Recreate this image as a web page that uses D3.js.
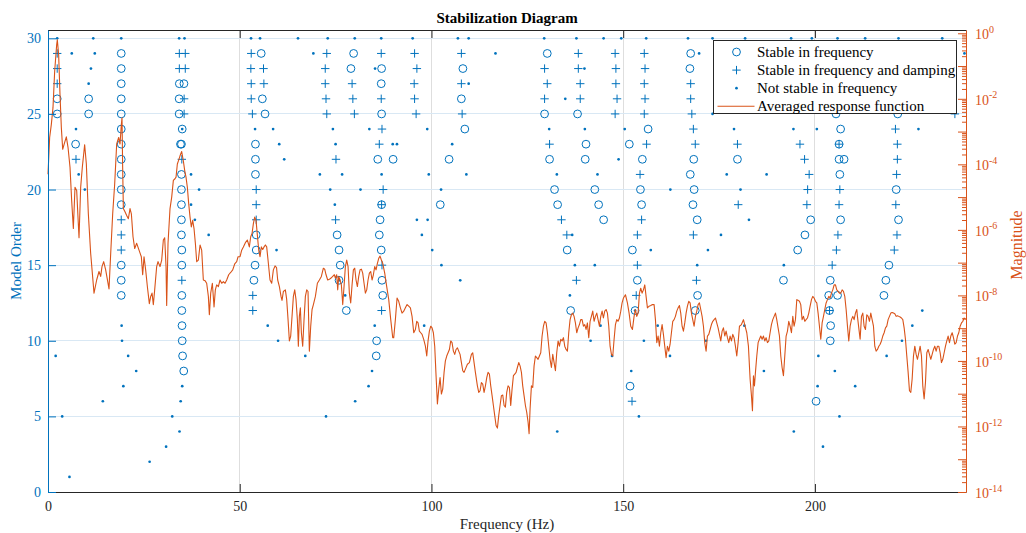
<!DOCTYPE html>
<html>
<head>
<meta charset="utf-8">
<script src="https://cdn.jsdelivr.net/npm/d3@7"></script>
<style>
  body { margin: 0; background: #fff; }
  svg { display: block; }
  text { font-family: "Liberation Serif", "Times New Roman", serif; }
</style>
</head>
<body>
<svg id="chart" width="1026" height="533"></svg>
<script>
// ---- Poles of the identified models: [frequency (Hz), model order] ----
const stableFreq = [
  [2.4,26],[2.4,25],[10.6,26],[10.6,25],[7.2,23],
  [19.1,29],[19.1,28],[19.1,27],[19.1,26],[19.1,25],[19.1,24],[19.1,23],[19.1,22],[19.1,21],[19.1,20],[19.1,19],[19.1,15],[19.1,14],[19.1,13],
  [34.25,27],[35.45,27],[34.2,26],[34.2,25],[35.0,24],[34.55,23],[34.8,23],[34.8,21],[34.8,20],[34.8,19],[34.8,18],[34.8,17],[34.9,16],[34.9,15],[34.9,13],[34.9,12],[34.95,11],[35.0,10],[35.1,9],[35.4,8],
  [55.6,29],[55.9,26],[56.6,25],[54.1,23],[54.1,22],[54.1,21],[54.3,17],[54.3,16],[54.0,15],[53.7,14],
  [79.7,29],[79.0,28],[87.0,28],[86.9,27],[87.0,25],[86.0,22],[90.0,22],[87.0,19],[86.6,18],[75.4,17],[86.4,17],[75.9,16],[86.9,16],[76.2,15],[75.9,14],[87.1,14],[87.3,13],[77.8,12],[85.7,10],[85.6,9],
  [108.2,28],[107.8,26],[108.7,24],[104.6,22],[102.3,19],
  [130.2,29],[129.5,25],[138.1,25],[140.3,23],[130.8,22],[140.1,22],[132.1,20],[142.6,20],[132.9,19],[143.6,19],[144.9,18],[135.4,16],[136.3,12],
  [167.6,29],[167.4,28],[156.5,24],[151.6,23],[155.0,22],[168.4,22],[179.8,22],[167.5,21],[154.5,20],[168.5,20],[154.8,19],[168.2,19],[169.3,18],[152.4,16],[153.7,14],[169.4,13],[153.1,12],[168.8,12],[151.8,7],
  [205.5,25],[206.7,24],[206.3,23],[206.3,22],[207.6,22],[206.5,21],[198.9,18],[206.7,18],[197.4,17],[195.5,16],[191.8,14],[204.0,14],[203.6,13],[205.9,13],[203.8,12],[204.1,11],[204.0,10],[200.3,6],
  [221.6,25],[221.2,20],[221.8,18],[219.3,15],[218.5,14],[218.0,13]
];

const stableFreqDamp = [
  [2.4,29],[2.4,28],[2.4,27],[7.3,22],
  [19.1,18],[19.1,17],[19.1,16],
  [34.25,29],[35.8,29],[34.25,28],[35.8,28],[35.5,26],[35.5,25],[34.9,22],[34.9,14],
  [53.0,29],[52.9,28],[56.2,28],[53.0,27],[56.3,27],[53.0,26],[53.3,25],[54.3,20],[54.3,19],[54.3,18],[53.4,13],[53.4,12],
  [72.7,29],[86.9,29],[72.3,28],[72.3,27],[79.3,27],[72.5,26],[79.5,26],[86.9,26],[72.7,25],[79.9,25],[87.1,24],[86.4,23],[75.1,22],[87.4,20],[87.0,19],[75.0,18],[87.1,15],[87.0,12],
  [95.6,29],[107.8,29],[96.2,28],[95.5,27],[107.8,27],[95.6,26],[96.0,25],[108.0,25],
  [138.3,29],[147.9,29],[129.5,28],[138.3,28],[148.1,28],[130.2,27],[138.8,27],[148.1,27],[129.5,26],[138.8,26],[148.4,26],[147.9,25],[130.8,23],[133.9,18],[135.3,17],[137.8,14],
  [155.5,29],[155.7,28],[155.5,27],[167.6,27],[155.7,26],[167.6,26],[155.5,25],[167.9,25],[168.3,24],[156.1,23],[168.8,23],[179.8,23],[154.4,21],[180.0,19],[154.8,18],[153.7,17],[168.3,17],[153.7,15],[169.1,14],[153.4,13],[152.3,6],
  [196.1,23],[206.3,23],[197.3,22],[198.5,21],[198.1,20],[206.5,20],[197.9,19],[206.3,19],[206.0,17],[205.6,16],[204.5,15],[203.8,12],
  [235.9,28],[235.4,27],[235.9,26],[236.5,25],[221.0,24],[221.5,23],[221.5,22],[221.3,21],[221.1,19],[221.4,17],[220.7,16]
];

const notStable = [
  [2.4,30],[6.2,29],[11.8,30],[12.2,29],[11.2,28],[10.6,27],[7.3,24],[8.0,21],[9.6,20],[2.0,9],[3.7,5],[5.6,1],[14.3,6],[26.5,2],
  [19.1,30],[19.2,11],[19.3,10],[20.9,9],[23.0,8],[19.65,7],
  [34.2,30],[35.6,30],[35.0,24],[37.3,21],[39.4,20],[37.3,19],[38.3,18],[41.9,17],[35.0,7],[34.6,6],[32.4,5],[34.3,4],[30.8,3],
  [52.95,30],[55.3,30],[54.0,24],[58.7,24],[59.6,16],[57.3,11],[60.0,10],
  [65.2,30],[72.95,30],[80.0,30],[86.9,30],[69.2,29],[85.3,28],[74.3,24],[83.8,24],[60.3,23],[75.0,23],[61.6,22],[70.9,21],[76.7,21],[87.0,21],[73.6,20],[81.5,20],[74.8,19],[75.9,14],[77.5,13],[85.2,11],[67.1,9],[84.5,8],[83.6,7],[80.1,6],[72.5,5],
  [89.9,23],[91.0,23],[95.1,30],[106.9,30],[109.7,30],[116.7,29],[109.7,27],[98.9,24],[105.4,23],[99.3,21],[109.1,21],[102.5,20],[96.2,18],[99.0,18],[97.5,17],[100.2,16],[102.6,15],[107.5,14],[98.1,11],
  [129.4,30],[137.8,30],[144.9,30],[149.5,30],[139.9,28],[134.9,26],[130.7,24],[140.0,24],[150.4,24],[148.8,22],[132.7,21],[143.3,21],[136.7,17],[137.4,15],[142.6,15],[136.1,13],[144.1,11],[141.5,10],[147.1,9],[132.8,4],
  [156.0,30],[166.9,30],[173.3,30],[169.8,29],[173.3,25],[178.9,24],[177.0,21],[162.3,20],[180.6,20],[175.5,17],[157.2,16],[172.1,16],[169.3,15],[153.1,12],[159.0,11],[155.4,10],[171.6,10],[162.2,9],[152.1,8],[154.1,5],
  [181.8,30],[193.8,30],[199.2,30],[205.9,30],[194.4,24],[200.5,24],[187.4,21],[182.8,18],[191.9,15],[181.6,11],[200.9,9],[186.7,8],[205.2,8],[200.7,7],[210.5,7],[206.4,5],[194.5,4],[202.1,3],
  [213.1,30],[221.8,30],[233.2,30],[239.0,29],[227.0,24],[228.0,12],[225.4,11],[222.7,10],[218.7,9]
];

// ---- Averaged response function: [frequency (Hz), log10(magnitude)] ----
const response = [
  [0.0,-4.3],[0.43,-3.18],[0.87,-2.78],[1.30,-2.27],[1.74,-1.16],[2.26,-0.35],[2.43,-0.20],[2.78,-0.66],[3.13,-1.87],[3.48,-2.88],
  [3.83,-3.54],[4.35,-3.33],[4.78,-3.16],[5.22,-3.48],[5.74,-4.09],[6.17,-5.10],[6.61,-5.96],[7.04,-4.70],[7.48,-4.80],[8.09,-6.24],
  [8.52,-4.70],[8.95,-4.09],[9.56,-3.40],[10.0,-3.99],[10.52,-5.51],[11.13,-6.72],[12.0,-7.93],[12.69,-7.53],[13.30,-7.27],[13.74,-7.42],
  [14.08,-7.12],[14.52,-6.97],[15.04,-7.22],[15.91,-7.80],[16.35,-6.72],[16.87,-5.51],[17.39,-4.60],[17.91,-3.38],[18.43,-3.18],[18.78,-3.38],
  [19.13,-2.78],[19.30,-2.58],[19.47,-4.09],[19.65,-5.35],[20.08,-5.45],[20.52,-5.56],[20.95,-5.66],[21.39,-5.35],[21.74,-5.51],[22.17,-6.21],
  [22.61,-6.57],[23.13,-6.41],[23.74,-6.62],[24.34,-6.82],[24.69,-7.37],[25.04,-6.82],[25.47,-7.22],[25.91,-7.73],[26.43,-8.25],[26.78,-8.03],
  [27.13,-7.93],[27.47,-8.28],[27.82,-7.83],[28.34,-7.12],[28.69,-6.97],[29.21,-7.12],[29.65,-6.92],[30.08,-6.31],[30.43,-6.24],[30.78,-7.12],
  [30.95,-8.31],[31.30,-6.41],[31.82,-5.35],[32.26,-5.00],[32.69,-4.49],[33.12,-4.44],[33.39,-4.39],[33.73,-3.99],[34.08,-3.87],[34.43,-3.74],
  [34.86,-3.61],[35.29,-3.89],[35.65,-4.19],[35.99,-4.39],[36.34,-4.70],[36.69,-5.20],[37.04,-5.61],[37.38,-5.91],[37.73,-5.71],[38.08,-5.96],
  [38.43,-6.41],[38.78,-6.97],[39.21,-6.92],[39.65,-6.46],[40.08,-6.62],[40.51,-7.53],[40.95,-7.55],[41.38,-7.63],[41.82,-8.03],[42.08,-8.59],
  [42.43,-7.93],[42.86,-7.63],[43.30,-8.35],[43.64,-7.83],[43.99,-7.68],[44.43,-7.73],[44.86,-7.53],[45.30,-7.63],[45.73,-7.58],[46.17,-7.63],
  [46.60,-7.53],[47.12,-7.37],[47.64,-7.30],[48.17,-7.22],[48.69,-7.04],[49.21,-6.97],[49.56,-6.82],[50.08,-6.82],[50.51,-6.62],[50.95,-6.52],
  [51.47,-6.39],[51.99,-6.31],[52.51,-6.52],[52.86,-6.21],[53.21,-6.11],[53.56,-5.81],[53.90,-5.61],[54.25,-5.71],[54.60,-6.16],[54.95,-6.62],
  [55.29,-6.82],[55.64,-6.52],[55.99,-6.60],[56.34,-6.52],[56.69,-6.46],[57.03,-6.52],[57.38,-6.92],[57.90,-7.53],[58.34,-7.63],[58.77,-7.22],
  [59.21,-7.10],[59.60,-7.15],[59.90,-7.53],[60.34,-7.73],[60.77,-8.03],[61.03,-8.15],[61.38,-7.88],[61.90,-7.83],[62.25,-8.13],[62.60,-8.74],
  [62.95,-9.39],[63.29,-9.24],[63.64,-8.64],[63.99,-8.03],[64.34,-7.83],[64.68,-8.13],[65.03,-8.74],[65.29,-9.55],[65.55,-8.64],[65.81,-8.38],
  [66.08,-9.14],[66.42,-9.55],[66.77,-8.74],[67.12,-8.03],[67.47,-7.83],[67.81,-7.88],[68.16,-9.70],[68.51,-8.94],[68.86,-8.43],[69.21,-8.28],
  [69.73,-8.03],[70.25,-7.63],[70.77,-7.53],[71.29,-7.42],[71.81,-7.17],[72.16,-7.20],[72.51,-7.37],[72.94,-7.53],[73.38,-7.51],[73.81,-7.47],
  [74.25,-7.42],[74.68,-7.37],[74.94,-7.47],[75.29,-7.37],[75.55,-7.83],[75.81,-7.42],[76.16,-7.53],[76.51,-7.68],[76.86,-8.28],[77.20,-7.73],
  [77.55,-7.12],[77.90,-6.92],[78.25,-7.12],[78.59,-7.93],[78.94,-8.23],[79.29,-7.68],[79.64,-7.22],[79.99,-7.17],[80.33,-7.53],[80.68,-7.73],
  [81.03,-7.42],[81.38,-7.22],[81.73,-7.20],[82.07,-7.32],[82.42,-7.63],[82.77,-7.93],[83.12,-7.83],[83.46,-7.53],[83.81,-7.32],[84.16,-7.27],
  [84.51,-7.53],[84.85,-7.37],[85.20,-7.12],[85.55,-7.22],[85.90,-7.02],[86.25,-6.87],[86.59,-6.80],[86.94,-6.92],[87.29,-7.02],[87.81,-7.32],
  [88.33,-7.73],[88.86,-8.13],[89.38,-8.74],[89.90,-9.29],[90.16,-9.29],[90.59,-8.74],[91.03,-8.08],[91.46,-8.18],[91.90,-8.38],[92.33,-8.54],
  [92.77,-8.48],[93.20,-8.38],[93.64,-8.28],[94.07,-8.33],[94.51,-8.38],[94.94,-8.64],[95.38,-9.14],[95.81,-9.04],[96.16,-8.79],[96.51,-8.84],
  [96.85,-9.09],[97.20,-9.14],[97.55,-9.19],[97.98,-9.34],[98.42,-9.55],[98.77,-9.85],[99.11,-9.39],[99.46,-9.09],[99.81,-8.94],[100.16,-8.99],
  [100.50,-9.14],[100.85,-9.55],[101.20,-10.45],[101.55,-11.31],[101.90,-10.86],[102.24,-10.51],[102.59,-11.01],[102.94,-10.86],[103.29,-10.35],[103.63,-10.00],
  [103.98,-9.85],[104.33,-9.75],[104.68,-9.65],[105.03,-9.39],[105.37,-9.44],[105.72,-9.70],[106.07,-9.80],[106.42,-9.65],[106.76,-9.60],[107.11,-9.70],
  [107.46,-9.80],[107.81,-10.05],[108.16,-10.30],[108.50,-10.35],[108.85,-10.25],[109.37,-10.10],[109.89,-10.05],[110.42,-9.80],[110.76,-9.75],[111.11,-10.05],
  [111.46,-10.35],[111.98,-10.76],[112.33,-10.96],[112.68,-10.91],[113.02,-10.66],[113.37,-10.71],[113.72,-10.96],[114.07,-10.76],[114.42,-10.51],[114.76,-10.35],
  [115.11,-10.40],[115.46,-10.76],[115.81,-11.06],[116.15,-11.36],[116.50,-11.67],[116.85,-11.97],[117.20,-12.05],[117.54,-11.67],[117.89,-11.36],[118.24,-11.06],
  [118.59,-11.04],[118.94,-11.36],[119.28,-11.41],[119.63,-10.96],[119.98,-10.76],[120.33,-10.81],[120.67,-11.36],[121.02,-10.86],[121.37,-10.45],[121.72,-10.40],
  [122.07,-10.35],[122.41,-10.20],[122.76,-10.05],[123.11,-10.15],[123.46,-10.35],[123.80,-10.76],[124.15,-11.06],[124.50,-11.36],[124.85,-11.57],[125.20,-11.87],
  [125.46,-12.22],[125.72,-11.46],[126.07,-10.76],[126.41,-10.81],[126.76,-10.15],[127.11,-9.85],[127.46,-9.90],[127.80,-9.95],[128.15,-9.85],[128.50,-9.75],
  [128.85,-9.24],[129.20,-8.94],[129.54,-8.79],[129.89,-8.84],[130.24,-9.14],[130.59,-9.55],[130.93,-9.95],[131.28,-10.20],[131.63,-9.80],[131.98,-10.05],
  [132.33,-10.30],[132.67,-9.75],[133.02,-9.39],[133.37,-9.55],[133.72,-9.34],[134.06,-9.39],[134.41,-9.29],[134.76,-9.55],[135.11,-9.65],[135.46,-9.70],
  [135.80,-9.14],[136.15,-8.74],[136.50,-8.59],[136.85,-8.54],[137.19,-8.64],[137.54,-8.84],[137.89,-9.14],[138.24,-8.99],[138.59,-8.89],[138.93,-8.74],
  [139.28,-8.74],[139.63,-8.94],[139.98,-8.89],[140.32,-9.04],[140.67,-8.84],[141.02,-9.29],[141.37,-8.79],[141.71,-8.64],[142.06,-8.48],[142.41,-8.79],
  [142.76,-8.64],[143.11,-8.54],[143.45,-8.74],[143.80,-8.94],[144.15,-8.64],[144.50,-8.48],[144.84,-8.69],[145.19,-8.48],[145.54,-8.43],[145.89,-8.54],
  [146.24,-8.94],[146.58,-9.55],[146.93,-9.80],[147.28,-9.85],[147.63,-9.34],[147.98,-8.89],[148.32,-8.74],[148.67,-8.79],[149.02,-8.69],[149.37,-8.48],
  [149.71,-8.23],[150.06,-8.08],[150.59,-7.98],[151.10,-8.23],[151.54,-8.54],[151.97,-8.94],[152.41,-9.04],[152.84,-8.64],[153.19,-8.43],[153.54,-8.64],
  [153.89,-8.54],[154.24,-7.93],[154.58,-7.78],[154.93,-7.93],[155.28,-7.83],[155.63,-7.68],[155.97,-8.03],[156.32,-8.38],[156.76,-8.33],[157.19,-8.31],
  [157.63,-8.28],[158.06,-8.28],[158.41,-8.74],[158.76,-9.44],[159.10,-9.24],[159.45,-9.55],[159.80,-9.14],[160.15,-8.89],[160.49,-9.19],[160.84,-9.55],
  [161.19,-9.90],[161.54,-9.55],[161.89,-9.70],[162.23,-9.49],[162.58,-9.14],[162.93,-8.79],[163.28,-8.74],[163.62,-8.64],[163.97,-8.48],[164.32,-8.38],
  [164.67,-8.31],[165.01,-8.54],[165.36,-8.94],[165.71,-9.09],[166.06,-8.84],[166.41,-8.54],[166.75,-8.33],[167.10,-8.18],[167.45,-8.23],[167.80,-8.54],
  [168.14,-8.74],[168.49,-8.94],[168.84,-8.64],[169.19,-8.48],[169.54,-8.28],[169.88,-8.23],[170.23,-8.43],[170.58,-8.64],[170.93,-8.94],[171.27,-9.44],
  [171.62,-9.70],[171.97,-9.24],[172.32,-9.19],[172.67,-9.04],[173.01,-8.89],[173.36,-8.79],[173.71,-8.74],[174.06,-8.69],[174.40,-8.84],[174.75,-8.99],
  [175.10,-9.19],[175.45,-9.39],[175.80,-9.09],[176.14,-8.99],[176.49,-9.24],[176.84,-9.09],[177.19,-9.29],[177.53,-9.44],[177.88,-9.24],[178.23,-9.39],
  [178.58,-9.19],[178.92,-9.29],[179.27,-9.55],[179.62,-9.85],[179.97,-9.44],[180.32,-8.94],[180.84,-8.89],[181.36,-8.74],[181.79,-8.94],[182.23,-9.14],
  [182.66,-9.55],[183.10,-10.56],[183.45,-11.06],[183.71,-11.52],[183.97,-10.45],[184.23,-10.76],[184.49,-10.35],[184.84,-9.85],[185.19,-9.44],[185.53,-9.34],
  [185.88,-9.24],[186.23,-9.34],[186.58,-9.24],[186.92,-9.39],[187.27,-9.29],[187.62,-9.44],[187.97,-9.39],[188.31,-9.14],[188.66,-8.89],[189.01,-8.74],
  [189.36,-8.64],[189.71,-8.54],[190.05,-8.74],[190.40,-8.99],[190.75,-9.24],[191.10,-9.85],[191.44,-10.20],[191.79,-10.45],[192.14,-9.85],[192.49,-9.24],
  [192.84,-9.09],[193.18,-8.79],[193.53,-8.94],[193.88,-9.14],[194.23,-8.64],[194.57,-8.94],[194.92,-8.74],[195.27,-8.13],[195.62,-8.15],[195.97,-8.18],
  [196.31,-8.28],[196.66,-8.74],[197.01,-8.64],[197.36,-8.79],[197.70,-8.74],[198.05,-8.69],[198.40,-8.54],[198.75,-8.33],[199.10,-8.13],[199.44,-8.03],
  [199.79,-8.08],[200.14,-8.18],[200.49,-8.23],[200.83,-8.54],[201.18,-8.94],[201.53,-9.34],[201.88,-8.84],[202.23,-8.64],[202.57,-8.43],[202.92,-8.23],
  [203.27,-8.13],[203.62,-8.03],[203.96,-8.08],[204.31,-7.93],[204.66,-7.83],[205.01,-7.68],[205.36,-7.68],[205.70,-7.83],[206.05,-7.88],[206.40,-7.93],
  [206.75,-7.93],[207.09,-7.83],[207.44,-7.88],[207.79,-8.03],[208.14,-8.43],[208.49,-8.94],[208.83,-9.39],[209.18,-8.94],[209.53,-8.74],[209.88,-8.64],
  [210.22,-8.74],[210.57,-8.54],[210.92,-8.43],[211.09,-8.64],[211.44,-8.99],[211.79,-9.34],[212.14,-8.64],[212.48,-8.54],[212.83,-8.94],[213.18,-9.04],
  [213.53,-8.59],[213.88,-8.64],[214.22,-8.79],[214.57,-8.54],[214.92,-8.74],[215.27,-8.94],[215.61,-9.55],[215.96,-9.70],[216.31,-9.65],[216.66,-9.55],
  [217.01,-9.49],[217.35,-9.39],[217.70,-9.24],[218.05,-9.14],[218.40,-8.99],[218.74,-8.94],[219.09,-8.74],[219.44,-8.64],[219.79,-8.54],[220.14,-8.52],
  [220.48,-8.54],[220.83,-8.56],[221.18,-8.64],[221.53,-8.62],[221.87,-8.64],[222.22,-8.66],[222.57,-8.69],[222.92,-8.74],[223.27,-8.99],[223.61,-9.34],
  [223.96,-9.85],[224.31,-10.35],[224.66,-10.91],[225.00,-10.96],[225.35,-10.56],[225.70,-9.85],[226.05,-9.55],[226.40,-9.80],[226.74,-9.95],[227.09,-9.75],
  [227.44,-9.55],[227.79,-9.85],[228.13,-10.76],[228.48,-11.16],[228.83,-10.66],[229.18,-9.75],[229.53,-9.65],[229.87,-9.80],[230.22,-9.95],[230.57,-9.80],
  [230.92,-9.65],[231.26,-9.55],[231.61,-9.70],[231.96,-9.55],[232.31,-9.55],[232.66,-9.75],[233.00,-10.05],[233.35,-9.95],[233.70,-9.75],[234.05,-9.55],
  [234.39,-9.39],[234.74,-9.24],[235.09,-9.44],[235.44,-9.24],[235.79,-9.14],[236.13,-9.29],[236.48,-9.49],[236.83,-9.44],[237.18,-9.24],[237.52,-9.14],
  [237.87,-8.94],[238.22,-8.84],[238.57,-8.79],[238.92,-8.69],[239.27,-8.74]
];

// ---- Axis settings ----
const freqMax = 239.4;
const orderMax = 30.55;
const xTickValues = [0, 50, 100, 150, 200];
const orderTickValues = [0, 5, 10, 15, 20, 25, 30];
const magExponents = [-14, -13, -12, -11, -10, -9, -8, -7, -6, -5, -4, -3, -2, -1, 0];
const legendLabels = ["Stable in frequency", "Stable in frequency and damping",
                      "Not stable in frequency", "Averaged response function"];

const BLUE = "#0072BD", ORANGE = "#D95319", DARK = "#262626";
const plot = { left: 48, right: 966, top: 30, bottom: 492 };

const svg = d3.select("#chart");

const x = d3.scaleLinear().domain([0, freqMax]).range([plot.left, plot.right]);
const yL = d3.scaleLinear().domain([0, orderMax]).range([plot.bottom, plot.top]);
const yR = d3.scaleLog().domain([1e-14, Math.pow(10, 0.1)]).range([plot.bottom, plot.top]);

// Grid lines
const grid = svg.append("g");
grid.selectAll("line.vg").data(xTickValues.filter(d => d > 0)).join("line")
  .attr("x1", d => x(d)).attr("x2", d => x(d))
  .attr("y1", plot.top).attr("y2", plot.bottom)
  .attr("stroke", "#dedede").attr("stroke-width", 1).attr("shape-rendering", "crispEdges");
grid.selectAll("line.hg").data(orderTickValues.filter(d => d > 0)).join("line")
  .attr("x1", plot.left).attr("x2", plot.right)
  .attr("y1", d => yL(d)).attr("y2", d => yL(d))
  .attr("stroke", "#d9e8f4").attr("stroke-width", 1).attr("shape-rendering", "crispEdges");

// Pole markers
const R_CIRCLE = 3.9, H_PLUS = 4.2, R_DOT = 1.35;
const marks = svg.append("g");
marks.selectAll("circle.sf").data(stableFreq).join("circle")
  .attr("cx", d => x(d[0])).attr("cy", d => yL(d[1])).attr("r", R_CIRCLE)
  .attr("fill", "none").attr("stroke", BLUE).attr("stroke-width", 1);
marks.selectAll("path.sd").data(stableFreqDamp).join("path")
  .attr("d", d => `M${x(d[0]) - H_PLUS},${yL(d[1])}h${2 * H_PLUS}M${x(d[0])},${yL(d[1]) - H_PLUS}v${2 * H_PLUS}`)
  .attr("stroke", BLUE).attr("stroke-width", 1).attr("fill", "none");
marks.selectAll("circle.ns").data(notStable).join("circle")
  .attr("cx", d => x(d[0])).attr("cy", d => yL(d[1])).attr("r", R_DOT)
  .attr("fill", BLUE);

// Response function
const line = d3.line().x(d => x(d[0])).y(d => yR(Math.pow(10, d[1])));
svg.append("path").datum(response)
  .attr("d", line).attr("fill", "none")
  .attr("stroke", ORANGE).attr("stroke-width", 1.1).attr("stroke-linejoin", "round");

// Bottom and top axes
const xAxis = svg.append("g").attr("transform", `translate(0,${plot.bottom})`)
  .call(d3.axisBottom(x).tickValues(xTickValues).tickSizeInner(-8).tickSizeOuter(0).tickPadding(9));
xAxis.select(".domain").attr("stroke", DARK);
xAxis.selectAll(".tick line").attr("stroke", DARK);
xAxis.selectAll(".tick text").attr("fill", DARK).attr("font-size", "14px");

const xTop = svg.append("g").attr("transform", `translate(0,${plot.top})`)
  .call(d3.axisTop(x).tickValues(xTickValues).tickSizeInner(-8).tickSizeOuter(0).tickFormat(""));
xTop.select(".domain").attr("stroke", DARK);
xTop.selectAll(".tick line").attr("stroke", DARK);

// Left axis: model order
const yAxisL = svg.append("g").attr("transform", `translate(${plot.left},0)`)
  .call(d3.axisLeft(yL).tickValues(orderTickValues).tickSizeInner(-8).tickSizeOuter(0).tickPadding(7));
yAxisL.select(".domain").attr("stroke", BLUE);
yAxisL.selectAll(".tick line").attr("stroke", BLUE);
yAxisL.selectAll(".tick text").attr("fill", BLUE).attr("font-size", "14px");

// Right axis: magnitude (log)
const minorTicks = [];
magExponents.slice(0, -1).forEach(e => { for (let m = 2; m <= 9; m++) minorTicks.push(m * Math.pow(10, e)); });
const yAxisRMinor = svg.append("g").attr("transform", `translate(${plot.right},0)`)
  .call(d3.axisRight(yR).tickValues(minorTicks).tickSizeInner(-4).tickSizeOuter(0).tickFormat(""));
yAxisRMinor.select(".domain").remove();
yAxisRMinor.selectAll(".tick line").attr("stroke", ORANGE);

const yAxisR = svg.append("g").attr("transform", `translate(${plot.right},0)`)
  .call(d3.axisRight(yR).tickValues(magExponents.map(e => Math.pow(10, e))).tickSizeInner(-8).tickSizeOuter(0).tickFormat(""));
yAxisR.select(".domain").attr("stroke", ORANGE);
yAxisR.selectAll(".tick line").attr("stroke", ORANGE);
yAxisR.selectAll(".tick text").remove();
yAxisR.selectAll(".tick").each(function (d) {
  const e = Math.round(Math.log10(d));
  if (e % 2 !== 0) return;
  const t = d3.select(this).append("text")
    .attr("x", 9).attr("y", 5.5).attr("fill", ORANGE).attr("font-size", "14px")
    .attr("text-anchor", "start");
  t.append("tspan").text("10");
  t.append("tspan").attr("dy", -6.5).attr("font-size", "10px").text(String(e));
});

// Axis titles
svg.append("text").attr("x", (plot.left + plot.right) / 2).attr("y", 529)
  .attr("text-anchor", "middle").attr("fill", DARK).attr("font-size", "15px")
  .text("Frequency (Hz)");
svg.append("text").attr("transform", `translate(21,${(plot.top + plot.bottom) / 2}) rotate(-90)`)
  .attr("text-anchor", "middle").attr("fill", BLUE).attr("font-size", "15px")
  .text("Model Order");
svg.append("text").attr("transform", `translate(1022,245) rotate(-90)`)
  .attr("text-anchor", "middle").attr("fill", ORANGE).attr("font-size", "16px")
  .text("Magnitude");

// Title
svg.append("text").attr("x", (plot.left + plot.right) / 2).attr("y", 23)
  .attr("text-anchor", "middle").attr("fill", "#000").attr("font-size", "15px")
  .attr("font-weight", "bold").text("Stabilization Diagram");

// Legend
const lg = svg.append("g").attr("transform", "translate(713.5,40.5)");
lg.append("rect").attr("width", 243).attr("height", 73)
  .attr("fill", "#fff").attr("stroke", DARK).attr("stroke-width", 1);
const rowY = i => 11.5 + i * 18.1;
const mx = 23;
lg.append("circle").attr("cx", mx).attr("cy", rowY(0)).attr("r", R_CIRCLE)
  .attr("fill", "none").attr("stroke", BLUE);
lg.append("path").attr("d", `M${mx - H_PLUS},${rowY(1)}h${2 * H_PLUS}M${mx},${rowY(1) - H_PLUS}v${2 * H_PLUS}`)
  .attr("stroke", BLUE).attr("fill", "none");
lg.append("circle").attr("cx", mx).attr("cy", rowY(2)).attr("r", R_DOT).attr("fill", BLUE);
lg.append("line").attr("x1", 4).attr("x2", 41).attr("y1", rowY(3)).attr("y2", rowY(3))
  .attr("stroke", ORANGE).attr("stroke-width", 1.1);
lg.selectAll("text.lbl").data(legendLabels).join("text")
  .attr("x", 43.5).attr("y", (d, i) => rowY(i) + 5)
  .attr("font-size", "15px").attr("fill", "#000").text(d => d);
</script>
</body>
</html>
